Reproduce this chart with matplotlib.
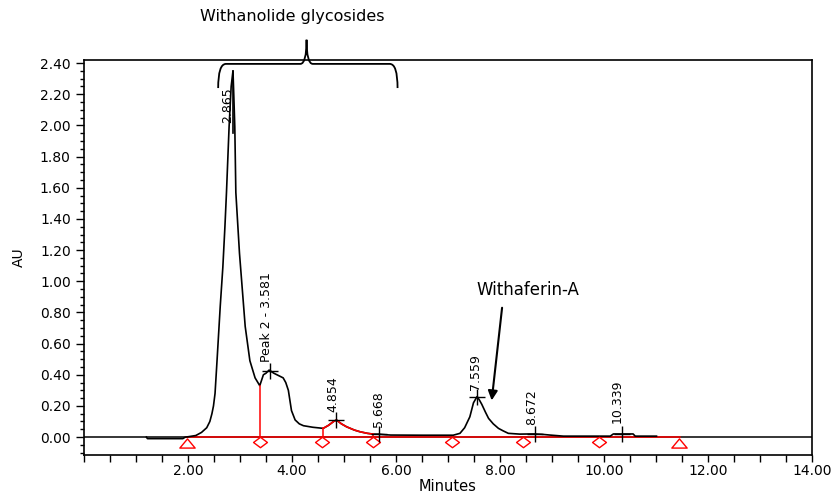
import matplotlib
matplotlib.use("Agg")
import matplotlib.pyplot as plt
from matplotlib.path import Path
from matplotlib.patches import PathPatch
from matplotlib.ticker import MultipleLocator, FormatStrFormatter
import numpy as np

#region data
# chromatogram trace (minutes, AU)
trace_t = [1.20, 1.22, 1.90, 1.95, 2.00, 2.15, 2.26, 2.36, 2.42, 2.46, 2.49, 2.52,
           2.56, 2.62, 2.67, 2.71, 2.74, 2.79, 2.83, 2.865, 2.88, 2.90, 2.92, 2.99,
           3.10, 3.19, 3.29, 3.38, 3.45, 3.50, 3.56, 3.65, 3.77, 3.83, 3.88, 3.93,
           3.99, 4.06, 4.14, 4.22, 4.40, 4.60, 4.70, 4.80, 4.854, 4.95, 5.05, 5.20,
           5.31, 5.45, 5.56, 5.668, 5.80, 5.90, 6.50, 7.10, 7.23, 7.32, 7.42, 7.49,
           7.559, 7.60, 7.65, 7.72, 7.78, 7.87, 7.97, 8.06, 8.16, 8.38, 8.58, 8.672,
           8.80, 8.96, 9.22, 10.12, 10.18, 10.56, 10.60, 11.01]
trace_au = [0.0, -0.01, -0.01, 0.0, 0.002, 0.01, 0.03, 0.06, 0.10, 0.15, 0.20, 0.28,
            0.50, 0.84, 1.09, 1.35, 1.57, 1.99, 2.25, 2.35, 2.20, 1.99, 1.57, 1.18,
            0.71, 0.49, 0.38, 0.33, 0.40, 0.41, 0.43, 0.41, 0.39, 0.38, 0.35, 0.30,
            0.17, 0.11, 0.085, 0.073, 0.063, 0.056, 0.075, 0.10, 0.11, 0.085, 0.066, 0.045,
            0.034, 0.024, 0.019, 0.019, 0.015, 0.013, 0.012, 0.012, 0.024, 0.06, 0.13, 0.22,
            0.26, 0.24, 0.21, 0.16, 0.12, 0.085, 0.056, 0.04, 0.024, 0.019, 0.02, 0.02,
            0.018, 0.013, 0.006, 0.006, 0.02, 0.02, 0.006, 0.006]

peak_times = [2.865, 3.581, 4.854, 5.668, 7.559, 8.672, 10.339]
peak_labels = ["2.865", "Peak 2 - 3.581", "4.854", "5.668", "7.559", "8.672", "10.339"]

# integration marks
baseline_start, baseline_end = 1.96, 11.46
drop_times = [3.38, 4.60, 5.56]
diamond_times = [3.38, 4.58, 5.55, 7.08, 8.45, 9.90]
triangle_times = [1.99, 11.45]
red_segment = (4.60, 5.56)

yticks = [0.00, 0.20, 0.40, 0.60, 0.80, 1.00, 1.20, 1.40, 1.60, 1.80, 2.00, 2.20, 2.40]
xticks = [2, 4, 6, 8, 10, 12, 14]
#endregion

t = np.array(trace_t)
au = np.array(trace_au)

fig = plt.figure(figsize=(8.32, 4.97), dpi=100)
ax = fig.add_axes([84/832, 42/497, 728/832, 395/497])

ax.axhline(0, color='black', lw=1.1, zorder=1)
ax.plot([baseline_start, baseline_end], [0, 0], color='red', lw=1.1, zorder=2)
ax.plot(t, au, color='black', lw=1.2, zorder=3)

# red part of trace for integrated peak
m = (t >= red_segment[0]) & (t <= red_segment[1])
ax.plot(t[m], au[m], color='red', lw=1.2, zorder=4)
for d in drop_times:
    ax.plot([d, d], [0, np.interp(d, t, au)], color='red', lw=1.1, zorder=4)

diamond = Path([(-1, 0), (0, 0.75), (1, 0), (0, -0.75), (-1, 0)], closed=True)
tri = Path([(-1, -0.6), (1, -0.6), (0, 0.6), (-1, -0.6)], closed=True)
ax.plot(diamond_times, [-0.032]*len(diamond_times), ls='none', marker=diamond, ms=10,
        mfc='white', mec='red', mew=1, zorder=5, clip_on=False)
ax.plot(triangle_times, [-0.036]*len(triangle_times), ls='none', marker=tri, ms=11,
        mfc='white', mec='red', mew=1, zorder=5, clip_on=False)

# peak marks and labels
peak_h = np.interp(peak_times, t, au)
ax.plot(peak_times[1:], peak_h[1:], ls='none', marker='+', ms=12, mew=1, color='black', zorder=6)
ax.plot([2.865, 2.865], [1.95, 2.35], color='black', lw=1.2, zorder=6)
label_pos = [(2.77, 2.015), (3.50, 0.483), (4.79, 0.163), (5.67, 0.066),
             (7.52, 0.30), (8.61, 0.077), (10.26, 0.088)]
for lab, (x, y) in zip(peak_labels, label_pos):
    ax.text(x, y, lab, rotation=90, ha='center', va='bottom', fontsize=9, zorder=7)

# brace over glycosides
xl, xr, xc = 2.58, 6.03, 4.28
yh, ye, yt = 2.395, 2.24, 2.55
verts = [(xl, ye), (xl, yh), (xl + 0.15, yh),
         (xc - 0.12, yh), (xc, yh), (xc, yt),
         (xc, yh), (xc + 0.12, yh),
         (xr - 0.15, yh), (xr, yh), (xr, ye)]
codes = [Path.MOVETO, Path.CURVE3, Path.CURVE3,
         Path.LINETO, Path.CURVE3, Path.CURVE3,
         Path.CURVE3, Path.CURVE3,
         Path.LINETO, Path.CURVE3, Path.CURVE3]
ax.add_patch(PathPatch(Path(verts, codes), fc='none', ec='black', lw=1.3, clip_on=False, zorder=8))
ax.text(4.01, 2.70, "Withanolide glycosides", ha='center', va='center', fontsize=11.5, clip_on=False)

ax.text(8.545, 0.947, "Withaferin-A", ha='center', va='center', fontsize=12)
ax.annotate('', xy=(7.84, 0.235), xytext=(8.04, 0.83),
            arrowprops=dict(arrowstyle='-|>', color='black', lw=1.5, mutation_scale=14, shrinkA=0, shrinkB=0))

ax.set_xlim(0, 14)
ax.set_ylim(-0.115, 2.42)
ax.set_xticks(xticks)
ax.set_yticks(yticks)
ax.xaxis.set_major_formatter(FormatStrFormatter('%.2f'))
ax.yaxis.set_major_formatter(FormatStrFormatter('%.2f'))
ax.xaxis.set_minor_locator(MultipleLocator(0.5))
ax.yaxis.set_minor_locator(MultipleLocator(0.05))
ax.tick_params(axis='x', which='both', length=5, width=1, labelsize=10, direction='out', pad=1.5)
ax.tick_params(axis='y', which='major', length=6, width=1, labelsize=10, direction='out')
ax.tick_params(axis='y', which='minor', length=3, width=1)
for s in ax.spines.values():
    s.set_linewidth(1.2)

ax.set_xlabel('Minutes', fontsize=10.5, labelpad=1)
ax.set_ylabel('AU', fontsize=10, labelpad=10)

plt.savefig("out.png", dpi=100)
